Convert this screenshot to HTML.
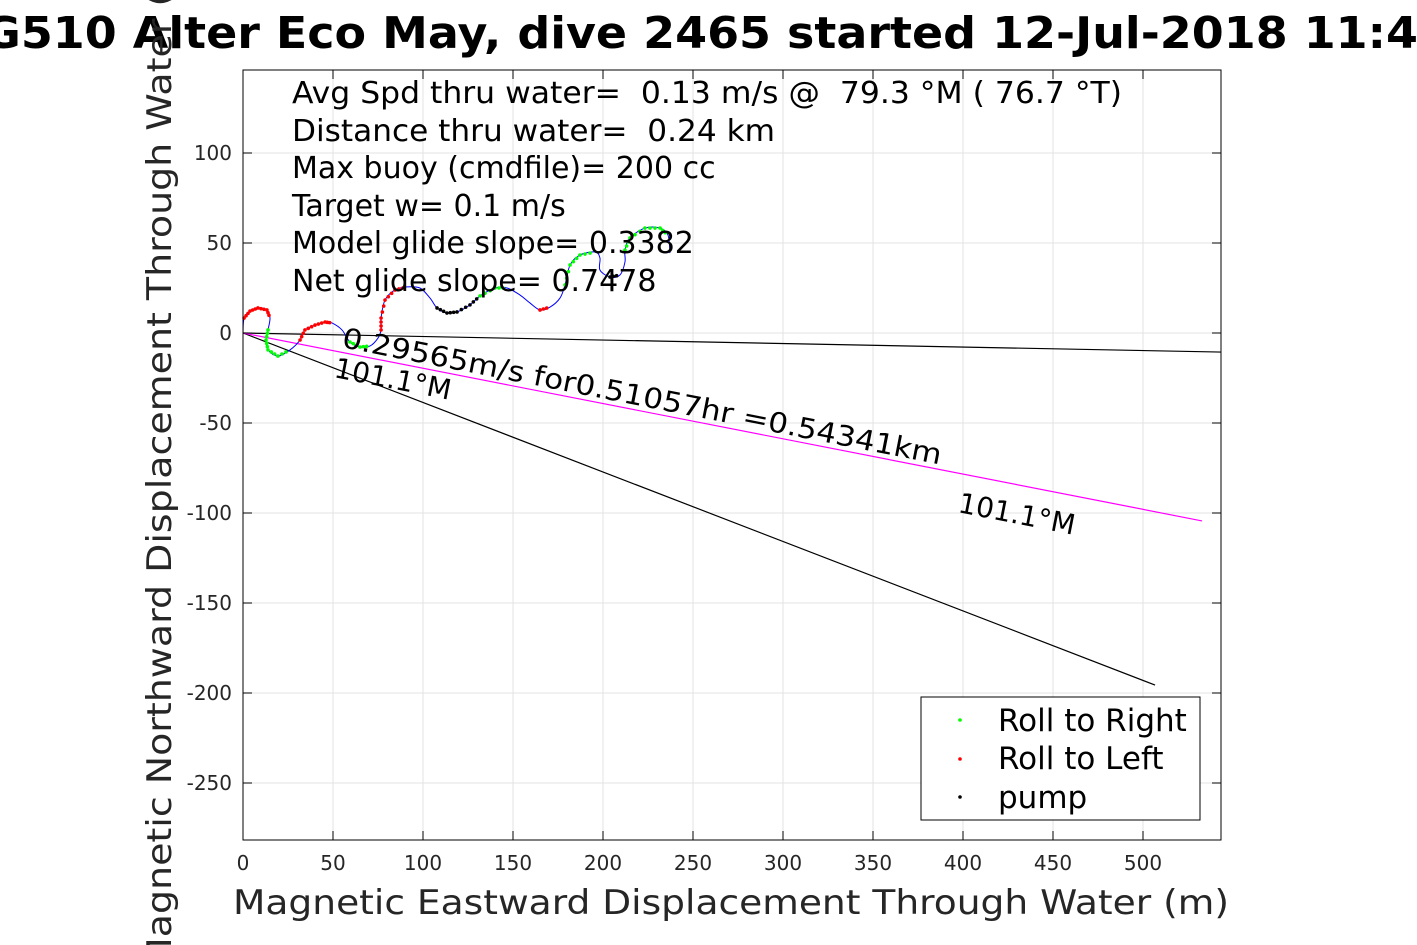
<!DOCTYPE html>
<html><head><meta charset="utf-8"><style>
html,body{margin:0;padding:0;background:#fff;overflow:hidden}
svg{display:block;font-family:"DejaVu Sans","Liberation Sans",sans-serif}
text{white-space:pre}
</style></head><body>
<svg id="chart" width="1417" height="945" viewBox="0 0 1417 945" xmlns="http://www.w3.org/2000/svg" xml:space="preserve">
<rect width="1417" height="945" fill="#fff"/>
<g id="grid"></g>
<g id="lines"></g>
<g id="track"></g>
<rect x="243" y="70" width="978" height="770" fill="none" stroke="#000" stroke-width="1"/>
<g id="ticks"></g>
<text x="700" y="48" text-anchor="middle" font-size="44" font-weight="bold" textLength="1500" lengthAdjust="spacingAndGlyphs">SG510 Alter Eco May, dive 2465 started 12-Jul-2018 11:45</text>
<text x="731" y="914" text-anchor="middle" font-size="34" fill="#262626" textLength="996" lengthAdjust="spacingAndGlyphs">Magnetic Eastward Displacement Through Water (m)</text>
<text transform="translate(171,455) rotate(-90)" text-anchor="middle" font-size="34" fill="#262626" textLength="1030" lengthAdjust="spacingAndGlyphs">Magnetic Northward Displacement Through Water (m)</text>
<g font-size="30" fill="#000">
<text x="292" y="103" textLength="830" lengthAdjust="spacingAndGlyphs">Avg Spd thru water=  0.13 m/s @  79.3 °M ( 76.7 °T)</text>
<text x="292" y="141" textLength="483" lengthAdjust="spacingAndGlyphs">Distance thru water=  0.24 km</text>
<text x="292" y="178">Max buoy (cmdfile)= 200 cc</text>
<text x="292" y="216">Target w= 0.1 m/s</text>
<text x="292" y="253">Model glide slope= 0.3382</text>
<text x="292" y="291">Net glide slope= 0.7478</text>
</g>
<text transform="translate(341,347) rotate(11.1)" font-size="28" textLength="610" lengthAdjust="spacingAndGlyphs">0.29565m/s for0.51057hr =0.54341km</text>
<text transform="translate(333,377) rotate(11.1)" font-size="28">101.1°M</text>
<text transform="translate(957,512) rotate(11.1)" font-size="28">101.1°M</text>
<g>
<rect x="921" y="697" width="279" height="123" fill="#fff" stroke="#000" stroke-width="1"/>
<circle cx="960" cy="720" r="1.8" fill="#00ff00"/>
<text x="998" y="731" font-size="31">Roll to Right</text>
<circle cx="960" cy="759" r="1.8" fill="#ff0000"/>
<text x="998" y="769" font-size="31">Roll to Left</text>
<circle cx="960" cy="797" r="1.8" fill="#000"/>
<text x="998" y="808" font-size="31">pump</text>
</g>
</svg>
<script>
const xTicks=[0,50,100,150,200,250,300,350,400,450,500];
const yTicks=[100,50,0,-50,-100,-150,-200,-250];
const trackX=[0,0.6,3.9,8.3,13.3,15,13.9,12.8,13.9,19.4,26.1,31.7,34.4,40,45.6,49.4,55,59.4,65,70.6,75,76.7,76.7,78.9,84.4,91.1,98.3,103.9,107.8,113.3,118.9,126.1,131.7,140,146.7,153.9,159.4,165,170.6,176.1,178.9,181.7,187.2,195.6,198.3,198.3,203.9,209.4,212.2,212.2,215,223.3,231.7,236.1,237.2];
const trackY=[0,8.3,12.2,13.9,12.8,8.3,1.7,-3.9,-9.4,-12.8,-9.4,-3.9,1.7,4.4,6.1,5.6,1.7,-5,-7.8,-7.2,-2.8,1.7,8.3,18.3,23.9,25.6,25,19.4,13.9,11.1,11.7,15.6,20.6,25,25,21.1,16.7,12.8,14.4,19.4,26.7,37.8,43.3,45,41.7,35,31.1,32.2,39.4,46.1,52.8,58.3,58.3,54.4,44.4];
const trackColor=["n","r","r","r","r","n","g","g","g","g","n","r","r","r","r","n","n","g","g","n","n","r","r","r","r","n","n","n","k","k","k","k","g","g","n","n","n","r","n","n","g","g","g","n","n","n","k","n","n","g","g","g","g","n","n"];
const lineEndX=[543.3,506.7,532.8];
const lineEndY=[-10.6,-195.6,-104.4];
const lineColor=["#000","#000","#ff00ff"];
const sx=v=>243+v*1.8, sy=v=>333-v*1.8;
const NS="http://www.w3.org/2000/svg";
function mk(tag,attrs,parent){const e=document.createElementNS(NS,tag);for(const k in attrs)e.setAttribute(k,attrs[k]);document.getElementById(parent).appendChild(e);return e;}
xTicks.forEach(t=>{
 const g=mk('line',{x1:sx(t),x2:sx(t),y1:70,y2:840,stroke:'#e3e3e3','stroke-width':1},'grid');
 
 
 mk('line',{x1:sx(t),x2:sx(t),y1:840,y2:831,stroke:'#000'},'ticks');
 mk('line',{x1:sx(t),x2:sx(t),y1:70,y2:79,stroke:'#000'},'ticks');
 const l=mk('text',{x:sx(t),y:870,'text-anchor':'middle','font-size':20,fill:'#262626'},'ticks');
 l.textContent=t;
 
 
});
yTicks.forEach(t=>{
 const g=mk('line',{x1:243,x2:1221,y1:sy(t),y2:sy(t),stroke:'#e3e3e3','stroke-width':1},'grid');
 
 
 mk('line',{x1:243,x2:252,y1:sy(t),y2:sy(t),stroke:'#000'},'ticks');
 mk('line',{x1:1212,x2:1221,y1:sy(t),y2:sy(t),stroke:'#000'},'ticks');
 const l=mk('text',{x:232,y:sy(t)+7,'text-anchor':'end','font-size':20,fill:'#262626'},'ticks');
 l.textContent=t;
 
 
});
lineEndX.forEach((x,i)=>{
 const l=mk('line',{x1:sx(0),y1:sy(0),x2:sx(x),y2:sy(lineEndY[i]),stroke:lineColor[i],'stroke-width':1.2},'lines');
 
 
});
let d=`M${sx(trackX[0])},${sy(trackY[0])}`;
const P=trackX.map((x,i)=>[sx(x),sy(trackY[i])]);
for(let i=0;i<P.length-1;i++){
 const p0=P[Math.max(0,i-1)],p1=P[i],p2=P[i+1],p3=P[Math.min(P.length-1,i+2)];
 d+=` C${p1[0]+(p2[0]-p0[0])/6},${p1[1]+(p2[1]-p0[1])/6} ${p2[0]-(p3[0]-p1[0])/6},${p2[1]-(p3[1]-p1[1])/6} ${p2[0]},${p2[1]}`;
}
const path=mk('path',{d:d,fill:'none',stroke:'#0000ff','stroke-width':1},'track');


const cmap={g:'#00ff00',r:'#ff0000',k:'#000'};
for(let i=0;i<P.length-1;i++){
 const c=trackColor[i];
 if(!cmap[c]) continue;
 for(let s=0;s<3;s++){
  const f=s/3;
  const dot=mk('circle',{cx:P[i][0]+(P[i+1][0]-P[i][0])*f,cy:P[i][1]+(P[i+1][1]-P[i][1])*f,r:1.8,fill:cmap[c]},'track');
  
  
 }
}
</script>
</body></html>
